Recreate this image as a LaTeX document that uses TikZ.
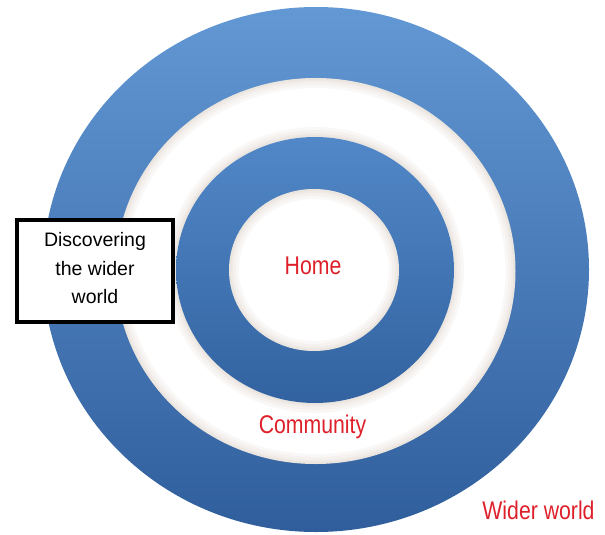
\documentclass[tikz,border=0pt]{standalone}
\usepackage{fontspec}
\setmainfont{Liberation Sans}
\newfontfamily\narrowfont[FakeStretch=0.83]{Liberation Sans}
\definecolor{bluetop}{RGB}{98,152,212}
\definecolor{bluebot}{RGB}{48,94,156}
\definecolor{blueintop}{RGB}{82,136,200}
\definecolor{blueinbot}{RGB}{50,98,160}
\definecolor{labelred}{RGB}{222,32,42}
\tikzset{
  bluedisc/.style={shade, top color=bluetop, bottom color=bluebot, draw=none},
  innerdisc/.style={shade, top color=blueintop, bottom color=blueinbot, draw=none},
  whitedisc/.style={fill=white, draw=none},
  glow/.style={draw=black!40!brown, opacity=0.035},
  label/.style={font=\narrowfont\fontsize{25.6}{30}\selectfont, text=labelred, inner sep=0pt},
  framebox/.style={draw=black, line width=3.2pt, fill=white, minimum width=156pt, minimum height=102pt, inner sep=0pt},
  boxtext/.style={font=\fontsize{19.5}{28.5}\selectfont, align=center, inner sep=0pt}
}
\begin{document}
\begin{tikzpicture}[x=1pt,y=-1pt]
\useasboundingbox (0,0) rectangle (605,535);
% outer blue ring
\path[bluedisc] (316,269.5) ellipse [x radius=273, y radius=262.5];
% white ring
\path[whitedisc] (315.5,271) ellipse [x radius=200, y radius=193];
\foreach \w in {10,7,4,2}{
  \draw[glow, line width=\w pt] (315.5,271) ellipse [x radius=200-\w/2, y radius=193-\w/2];
}
% inner blue ring
\foreach \w in {10,7,4,2}{
  \draw[glow, line width=\w pt] (315,270) ellipse [x radius=139+\w/2, y radius=133+\w/2];
}
\path[innerdisc] (315,270) ellipse [x radius=139, y radius=133];
% centre white disc
\path[whitedisc] (314,270) ellipse [x radius=85, y radius=81];
\foreach \w in {10,7,4,2}{
  \draw[glow, line width=\w pt] (314,270) ellipse [x radius=85-\w/2, y radius=81-\w/2];
}
% labels
\node[label, anchor=base] (home) at (313,274) {Home};
\node[label, anchor=base] (community) at (312.5,433) {Community};
\node[label, anchor=base] (wider) at (538.5,519) {Wider world};
% box
\node[framebox] (box) at (95,271) {};
\node[boxtext] (boxlabel) at (95,268.5) {Discovering\\the wider\\world};
\end{tikzpicture}
\end{document}
